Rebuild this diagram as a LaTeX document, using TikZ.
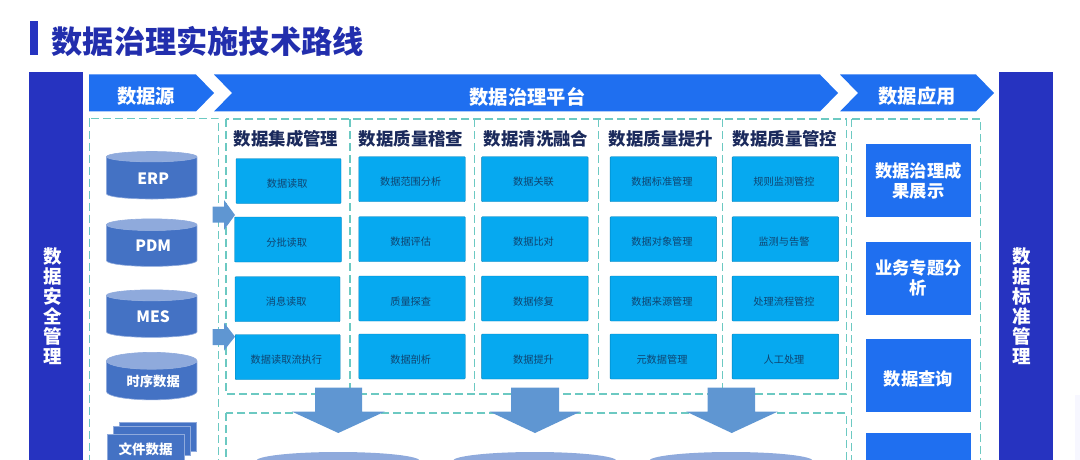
\documentclass[tikz,border=0pt]{standalone}
\usepackage{fontspec}
\setmainfont{Noto Sans CJK SC}
\usepackage{tikz}
\usetikzlibrary{shapes.geometric}

\definecolor{navyband}{HTML}{2633C0}
\definecolor{chevblue}{HTML}{1F6FF0}
\definecolor{skyblue}{HTML}{06A9F0}
\definecolor{teal}{HTML}{6CC9C2}
\definecolor{headnavy}{HTML}{1B2A5C}
\definecolor{itemtext}{HTML}{0F4470}
\definecolor{dbbody}{HTML}{4472C4}
\definecolor{dbtop}{HTML}{8FAADC}
\definecolor{flowblue}{HTML}{5F96D2}

\begin{document}
\begin{tikzpicture}[x=1pt, y=-1pt,
		band/.style={fill=navyband, text=white, font=\fontsize{18.5}{20}\selectfont\bfseries, align=center, inner sep=0pt},
		stagetext/.style={text=white, font=\fontsize{19.3}{21}\selectfont\bfseries, inner sep=0pt},
		panel/.style={draw=teal, line width=1.2pt, dash pattern=on 8pt off 4pt},
		colhead/.style={text=headnavy, font=\fontsize{17.4}{19}\selectfont\bfseries, inner sep=0pt},
		item/.style={fill=skyblue, draw=skyblue!75!black, line width=0.4pt, rounded corners=0.8pt, minimum width=106.5pt, minimum height=45pt, inner sep=0pt, text=itemtext, text height=13pt, text depth=0pt, font=\fontsize{10.2}{12}\selectfont, execute at end node={\hspace*{2.6pt}}},
		appbox/.style={fill=chevblue, minimum width=105.5pt, minimum height=73pt, inner sep=0pt, text=white, align=center, font=\fontsize{17.3}{20}\selectfont\bfseries, execute at begin node={\rule{0pt}{23pt}}},
		db/.style={cylinder, shape border rotate=90, shape aspect=0.3, minimum width=90.5pt, minimum height=47.5pt, inner sep=0pt, draw=dbtop, line width=0.6pt, cylinder uses custom fill, cylinder body fill=dbbody, cylinder end fill=dbtop, text=white, text height=12pt, text depth=0pt, font=\fontsize{15.6}{18}\selectfont\bfseries, execute at begin node={\hspace*{3pt}}},
		filesheet/.style={fill=dbbody, draw=dbtop, line width=0.6pt, minimum width=77pt, minimum height=29pt, inner sep=0pt, text=white, font=\fontsize{13.5}{15}\selectfont\bfseries},
		store/.style={ellipse, fill=dbtop, minimum width=164pt, minimum height=18pt, inner sep=0pt},
	]
		\useasboundingbox (0,0) rectangle (1080,460);
		\clip (0,0) rectangle (1080,460);

		% Title
		\fill[navyband] (30,21) rectangle (38,55);
		\node[anchor=west, inner sep=0pt, text=navyband!90!black, font=\fontsize{31.2}{33}\selectfont\bfseries] (title) at (51.5,41) {数据治理实施技术路线};

		% Side bands
		\node[band, minimum width=54pt, minimum height=388pt] (secband) at (56,266) {};
		\node[band, minimum width=54pt, minimum height=388pt] (stdband) at (1026,266) {};
		\node[band] (sectext) at (53,306) {数\\据\\安\\全\\管\\理};
		\node[band] (stdtext) at (1022,306) {数\\据\\标\\准\\管\\理};

		% Stage chevrons
		\fill[chevblue] (89,74.5) -- (196,74.5) -- (214,93) -- (196,111.5) -- (89,111.5) -- cycle;
		\fill[chevblue] (214,74.5) -- (820,74.5) -- (838,93) -- (820,111.5) -- (214,111.5) -- (232,93) -- cycle;
		\fill[chevblue] (840,74.5) -- (976,74.5) -- (994,93) -- (976,111.5) -- (840,111.5) -- (858,93) -- cycle;
		\node[stagetext] (srcstage) at (146,96.5) {数据源};
		\node[stagetext] (govstage) at (527.5,96.5) {数据治理平台};
		\node[stagetext] (appstage) at (917,96.5) {数据应用};

		% Dashed panels
		\draw[panel] (89.5,118.5) rectangle (218.5,480);
		\draw[panel] (226,119) rectangle (846.7,394);
		\draw[panel] (350,119) -- (350,394);
		\draw[panel] (474.5,119) -- (474.5,394);
		\draw[panel] (598.5,119) -- (598.5,394);
		\draw[panel] (722.7,119) -- (722.7,394);
		\draw[panel] (226,413) rectangle (846.7,480);
		\draw[panel] (851.7,119) rectangle (980.7,480);

		% Column heads
		\node[colhead] (headA) at (286,139) {数据集成管理};
		\node[colhead] (headB) at (411,139) {数据质量稽查};
		\node[colhead] (headC) at (536,139) {数据清洗融合};
		\node[colhead] (headD) at (661,139) {数据质量提升};
		\node[colhead] (headE) at (785,139) {数据质量管控};

		% Integration column
		\node[item, minimum width=105pt] (readA) at (288.5,181) {数据读取};
		\node[item, minimum width=107pt] (readB) at (288,239.5) {分批读取};
		\node[item, minimum width=105pt] (readC) at (287.5,299.2) {消息读取};
		\node[item, minimum width=105pt] (readD) at (287.7,357) {数据读取流执行};

		% Audit column
		\node[item] (auditA) at (412,179.2) {数据范围分析};
		\node[item] (auditB) at (412,239.2) {数据评估};
		\node[item] (auditC) at (412,298.5) {质量探查};
		\node[item] (auditD) at (412,356.5) {数据剖析};

		% Cleansing column
		\node[item] (cleanA) at (534.8,179.2) {数据关联};
		\node[item] (cleanB) at (534.8,239.2) {数据比对};
		\node[item] (cleanC) at (534.8,298.5) {数据修复};
		\node[item] (cleanD) at (534.8,356.5) {数据提升};

		% Upgrade column
		\node[item] (liftA) at (663.3,179.2) {数据标准管理};
		\node[item] (liftB) at (663.3,239.2) {数据对象管理};
		\node[item] (liftC) at (663.3,298.5) {数据来源管理};
		\node[item] (liftD) at (663.3,356.5) {元数据管理};

		% Control column
		\node[item] (ctrlA) at (785.3,179.2) {规则监测管控};
		\node[item] (ctrlB) at (785.3,239.2) {监测与告警};
		\node[item] (ctrlC) at (785.3,298.5) {处理流程管控};
		\node[item] (ctrlD) at (785.3,356.5) {人工处理};

		% Application boxes
		\node[appbox] (appA) at (918.5,180.8) {数据治理成\\果展示};
		\node[appbox] (appB) at (918.5,278.3) {业务专题分\\析};
		\node[appbox] (appC) at (918.5,375.2) {数据查询};
		\node[appbox] (appD) at (918.5,469.5) {};

		% Sources
		\node[db] (erp) at (151.7,178) {ERP};
		\node[db] (pdm) at (151.7,245.7) {PDM};
		\node[db] (mes) at (151.7,316.5) {MES};
		\node[db, font=\fontsize{13.3}{15}\selectfont\bfseries] (tsdb) at (151.7,380.5) {时序数据};
		\node[filesheet] (fileC) at (158,437) {};
		\node[filesheet] (fileB) at (152,441) {};
		\node[filesheet] (fileA) at (145.5,449) {文件数据};

		% Storage below
		\node[store] (storeA) at (338,461) {};
		\node[store] (storeB) at (534.7,461) {};
		\node[store] (storeC) at (731,461) {};

		% Small flow arrows
		\fill[flowblue] (212.7,206.5) -- (224,206.5) -- (224,200) -- (235,215) -- (224,230) -- (224,222.5) -- (212.7,222.5) -- cycle;
		\fill[flowblue] (212.7,329) -- (224,329) -- (224,322.7) -- (235,336.7) -- (224,350.7) -- (224,345) -- (212.7,345) -- cycle;

		% Large flow arrows
		\fill[flowblue] (315,387.7) -- (362,387.7) -- (362,411.5) -- (385,411.5) -- (338.3,433) -- (291.7,411.5) -- (315,411.5) -- cycle;
		\fill[flowblue] (511,387.7) -- (559,387.7) -- (559,411.5) -- (580.7,411.5) -- (535,433) -- (489.3,411.5) -- (511,411.5) -- cycle;
		\fill[flowblue] (707.7,387.7) -- (755,387.7) -- (755,411.5) -- (778,411.5) -- (731.7,433) -- (686,411.5) -- (707.7,411.5) -- cycle;

		% Pale strip at the edge
		\fill[blue!3] (1075,395) rectangle (1080,460);
	\end{tikzpicture}
\end{document}
